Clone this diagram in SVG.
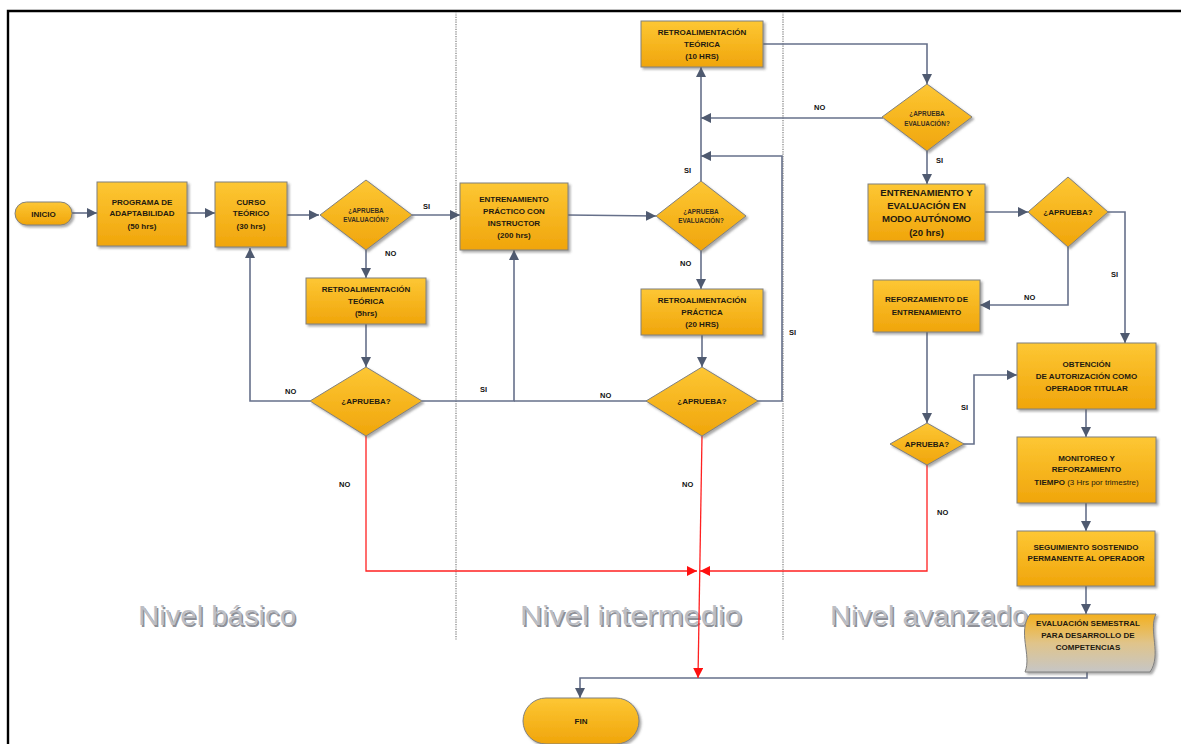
<svg xmlns="http://www.w3.org/2000/svg" width="1181" height="744" viewBox="0 0 1181 744">
<style>
.t{font-family:"Liberation Sans",Arial,sans-serif;font-weight:bold;font-size:8px;text-anchor:middle;fill:#1f1a10}
.s{font-size:6.4px;fill:#3a3020}
.b{font-size:9.6px}
.n{font-weight:normal}
.lbl{font-family:"Liberation Sans",Arial,sans-serif;font-weight:bold;font-size:7.5px;fill:#111}
.box{fill:url(#og);stroke:#80807f;stroke-width:1;filter:url(#sh)}
.c{fill:none;stroke:#66708a;stroke-width:1.6;marker-end:url(#arr)}
.cn{fill:none;stroke:#66708a;stroke-width:1.6}
.ra{fill:none;stroke:#ff2020;stroke-width:1.3;marker-end:url(#arrR)}
.lane{fill:none;stroke:#b0b0b0;stroke-width:2;stroke-dasharray:1.2 1.2}
.lt{font-family:"Liberation Sans",Arial,sans-serif;font-size:27px;fill:#bcbec4}
.lts{font-family:"Liberation Sans",Arial,sans-serif;font-size:27px;fill:#8e9097}
</style>
<defs>
<linearGradient id="og" x1="0" y1="0" x2="0" y2="1">
<stop offset="0" stop-color="#fdc734"/>
<stop offset="1" stop-color="#f0a50b"/>
</linearGradient>
<linearGradient id="tg" x1="0" y1="0" x2="0" y2="1">
<stop offset="0" stop-color="#f4b01c"/>
<stop offset="0.5" stop-color="#e0c48a"/>
<stop offset="1" stop-color="#c6c6c6"/>
</linearGradient>
<filter id="sh" x="-10%" y="-10%" width="130%" height="130%">
<feDropShadow dx="2" dy="2" stdDeviation="1" flood-color="#555" flood-opacity="0.5"/>
</filter>
<marker id="arr" markerUnits="userSpaceOnUse" markerWidth="11" markerHeight="10" refX="10" refY="5" orient="auto">
<path d="M0,0 L10,5 L0,10 z" fill="#4f5a70"/>
</marker>
<marker id="arrR" markerUnits="userSpaceOnUse" markerWidth="11" markerHeight="10" refX="10" refY="5" orient="auto">
<path d="M0,0 L10,5 L0,10 z" fill="#ff1010"/>
</marker>
</defs>
<rect width="1181" height="744" fill="#fff"/>
<path d="M8,744 L8,11 L1181,11" fill="none" stroke="#000" stroke-width="2.4"/>
<g id="lanes">
<line class="lane" x1="456" y1="12" x2="456" y2="640"/>
<line class="lane" x1="783" y1="12" x2="783" y2="640"/>
<text class="lts" x="139.5" y="626.5" textLength="158" lengthAdjust="spacingAndGlyphs">Nivel básico</text>
<text class="lt" x="138" y="625" textLength="158" lengthAdjust="spacingAndGlyphs">Nivel básico</text>
<text class="lts" x="521.5" y="626.5" textLength="222" lengthAdjust="spacingAndGlyphs">Nivel intermedio</text>
<text class="lt" x="520" y="625" textLength="222" lengthAdjust="spacingAndGlyphs">Nivel intermedio</text>
<text class="lts" x="831.5" y="626.5" textLength="198" lengthAdjust="spacingAndGlyphs">Nivel avanzado</text>
<text class="lt" x="830" y="625" textLength="198" lengthAdjust="spacingAndGlyphs">Nivel avanzado</text>
</g>
<g id="connectors">
<path class="c" d="M72,213 L97,213"/>
<path class="c" d="M187,213 L215,213"/>
<path class="c" d="M287,215 L319,215"/>
<path class="c" d="M412,215 L460,215"/>
<path class="c" d="M366,250 L366,278"/>
<path class="c" d="M366,324 L366,367"/>
<path class="c" d="M310,401 L250,401 L250,248"/>
<path class="c" d="M422,401 L514,401 L514,250"/>
<path class="cn" d="M647,401 L514,401"/>
<path class="c" d="M568,215 L656,216"/>
<path class="c" d="M701,251 L701,289"/>
<path class="c" d="M702,335 L702,367"/>
<path class="c" d="M701,181 L701,67"/>
<path class="c" d="M757,401 L782,401 L782,156 L701,156"/>
<path class="c" d="M883,118 L701,118"/>
<path class="c" d="M763,44 L927,44 L927,84"/>
<path class="c" d="M927,151 L927,184"/>
<path class="c" d="M985,212 L1028,212"/>
<path class="c" d="M1068,247 L1068,305 L980,305"/>
<path class="c" d="M1108,212 L1125,212 L1125,343"/>
<path class="c" d="M927,332 L927,423"/>
<path class="c" d="M963,444 L974,444 L974,375 L1017,375"/>
<path class="c" d="M1086,409 L1086,437"/>
<path class="c" d="M1086,503 L1086,531"/>
<path class="c" d="M1086,586 L1086,614"/>
<path class="c" d="M1087,671 L1087,678 L580,678 L580,698"/>
<path class="ra" d="M366,436 L366,571 L697,571"/>
<path class="ra" d="M927,465 L927,571 L700,571"/>
<path class="ra" d="M702,436 L698,678"/>
<text class="lbl" x="423" y="209">SI</text>
<text class="lbl" x="385" y="256">NO</text>
<text class="lbl" x="285" y="394">NO</text>
<text class="lbl" x="480" y="392">SI</text>
<text class="lbl" x="600" y="398">NO</text>
<text class="lbl" x="680" y="266">NO</text>
<text class="lbl" x="684" y="173">SI</text>
<text class="lbl" x="789" y="335">SI</text>
<text class="lbl" x="814" y="110">NO</text>
<text class="lbl" x="936" y="163">SI</text>
<text class="lbl" x="1024" y="300">NO</text>
<text class="lbl" x="1111" y="277">SI</text>
<text class="lbl" x="961" y="410">SI</text>
<text class="lbl" x="339" y="487">NO</text>
<text class="lbl" x="682" y="487">NO</text>
<text class="lbl" x="937" y="515">NO</text>
</g>
<g id="inicio">
<rect class="box" x="15" y="202" width="57" height="23" rx="11.5"/>
<text class="t" x="43.5" y="216.5">INICIO</text>
</g>
<g id="programa">
<rect class="box" x="97" y="182" width="90" height="64"/>
<text class="t" x="142" y="205">PROGRAMA DE</text>
<text class="t" x="142" y="216">ADAPTABILIDAD</text>
<text class="t" x="142" y="229">(50 hrs)</text>
</g>
<g id="curso">
<rect class="box" x="215" y="182" width="72" height="65"/>
<text class="t" x="251" y="205">CURSO</text>
<text class="t" x="251" y="216">TEÓRICO</text>
<text class="t" x="251" y="229">(30 hrs)</text>
</g>
<g id="dec1">
<path class="box" d="M366,180 L412,215 L366,250 L320,215 Z"/>
<text class="t s" x="366" y="213">¿APRUEBA</text>
<text class="t s" x="366" y="222">EVALUACIÓN?</text>
</g>
<g id="retro5">
<rect class="box" x="306" y="278" width="120" height="46"/>
<text class="t" x="366" y="292">RETROALIMENTACIÓN</text>
<text class="t" x="366" y="304">TEÓRICA</text>
<text class="t" x="366" y="316">(5hrs)</text>
</g>
<g id="dec2">
<path class="box" d="M366,367 L422,401 L366,436 L310,401 Z"/>
<text class="t" x="366" y="404">¿APRUEBA?</text>
</g>
<g id="entrenamiento">
<rect class="box" x="460" y="183" width="108" height="67"/>
<text class="t" x="514" y="202">ENTRENAMIENTO</text>
<text class="t" x="514" y="214">PRÁCTICO CON</text>
<text class="t" x="514" y="226">INSTRUCTOR</text>
<text class="t" x="514" y="238">(200 hrs)</text>
</g>
<g id="dec3">
<path class="box" d="M701,181 L746,216 L701,251 L656,216 Z"/>
<text class="t s" x="701" y="214">¿APRUEBA</text>
<text class="t s" x="701" y="223">EVALUACIÓN?</text>
</g>
<g id="retropractica">
<rect class="box" x="641" y="289" width="122" height="46"/>
<text class="t" x="702" y="303">RETROALIMENTACIÓN</text>
<text class="t" x="702" y="315">PRÁCTICA</text>
<text class="t" x="702" y="327">(20 HRS)</text>
</g>
<g id="dec4">
<path class="box" d="M702,367 L758,401 L702,436 L646,401 Z"/>
<text class="t" x="702" y="404">¿APRUEBA?</text>
</g>
<g id="retro10">
<rect class="box" x="641" y="21" width="122" height="46"/>
<text class="t" x="702" y="35">RETROALIMENTACIÓN</text>
<text class="t" x="702" y="47">TEÓRICA</text>
<text class="t" x="702" y="59">(10 HRS)</text>
</g>
<g id="dec5">
<path class="box" d="M927,84 L972,117 L927,151 L882,117 Z"/>
<text class="t s" x="927" y="116">¿APRUEBA</text>
<text class="t s" x="927" y="126">EVALUACIÓN?</text>
</g>
<g id="autonomo">
<rect class="box" x="868" y="184" width="117" height="57"/>
<text class="t b" x="926.5" y="196">ENTRENAMIENTO Y</text>
<text class="t b" x="926.5" y="209">EVALUACIÓN EN</text>
<text class="t b" x="926.5" y="222">MODO  AUTÓNOMO</text>
<text class="t b" x="926.5" y="236">(20 hrs)</text>
</g>
<g id="dec6">
<path class="box" d="M1068,177 L1108,212 L1068,247 L1028,212 Z"/>
<text class="t" x="1068" y="215">¿APRUEBA?</text>
</g>
<g id="reforzamiento">
<rect class="box" x="873" y="280" width="107" height="52"/>
<text class="t" x="926.5" y="302">REFORZAMIENTO DE</text>
<text class="t" x="926.5" y="315">ENTRENAMIENTO</text>
</g>
<g id="dec7">
<path class="box" d="M927,423 L964,444 L927,465 L890,444 Z"/>
<text class="t" x="927" y="447">APRUEBA?</text>
</g>
<g id="obtencion">
<rect class="box" x="1017" y="343" width="139" height="66"/>
<text class="t" x="1086.5" y="367">OBTENCIÓN</text>
<text class="t" x="1086.5" y="379">DE AUTORIZACIÓN COMO</text>
<text class="t" x="1086.5" y="391">OPERADOR TITULAR</text>
</g>
<g id="monitoreo">
<rect class="box" x="1017" y="437" width="139" height="66"/>
<text class="t" x="1086.5" y="461">MONITOREO Y</text>
<text class="t" x="1086.5" y="472">REFORZAMIENTO</text>
<text class="t" x="1086.5" y="485">TIEMPO <tspan class="n">(3 Hrs por trimestre)</tspan></text>
</g>
<g id="seguimiento">
<rect class="box" x="1017" y="531" width="138" height="55"/>
<text class="t" x="1086" y="550">SEGUIMIENTO SOSTENIDO</text>
<text class="t" x="1086" y="561">PERMANENTE  AL OPERADOR</text>
</g>
<g id="evaluacion">
<path d="M1030,614 L1156,614 C1148,630 1162,655 1150,672 L1025,672 C1032,655 1017,632 1030,614 Z" fill="url(#tg)" stroke="#80807f" stroke-width="1" filter="url(#sh)"/>
<text class="t" x="1088" y="626">EVALUACIÓN SEMESTRAL</text>
<text class="t" x="1088" y="638">PARA DESARROLLO DE</text>
<text class="t" x="1088" y="650">COMPETENCIAS</text>
</g>
<g id="fin">
<rect class="box" x="523" y="698" width="116" height="46" rx="23"/>
<text class="t" x="581" y="724">FIN</text>
</g>
</svg>
